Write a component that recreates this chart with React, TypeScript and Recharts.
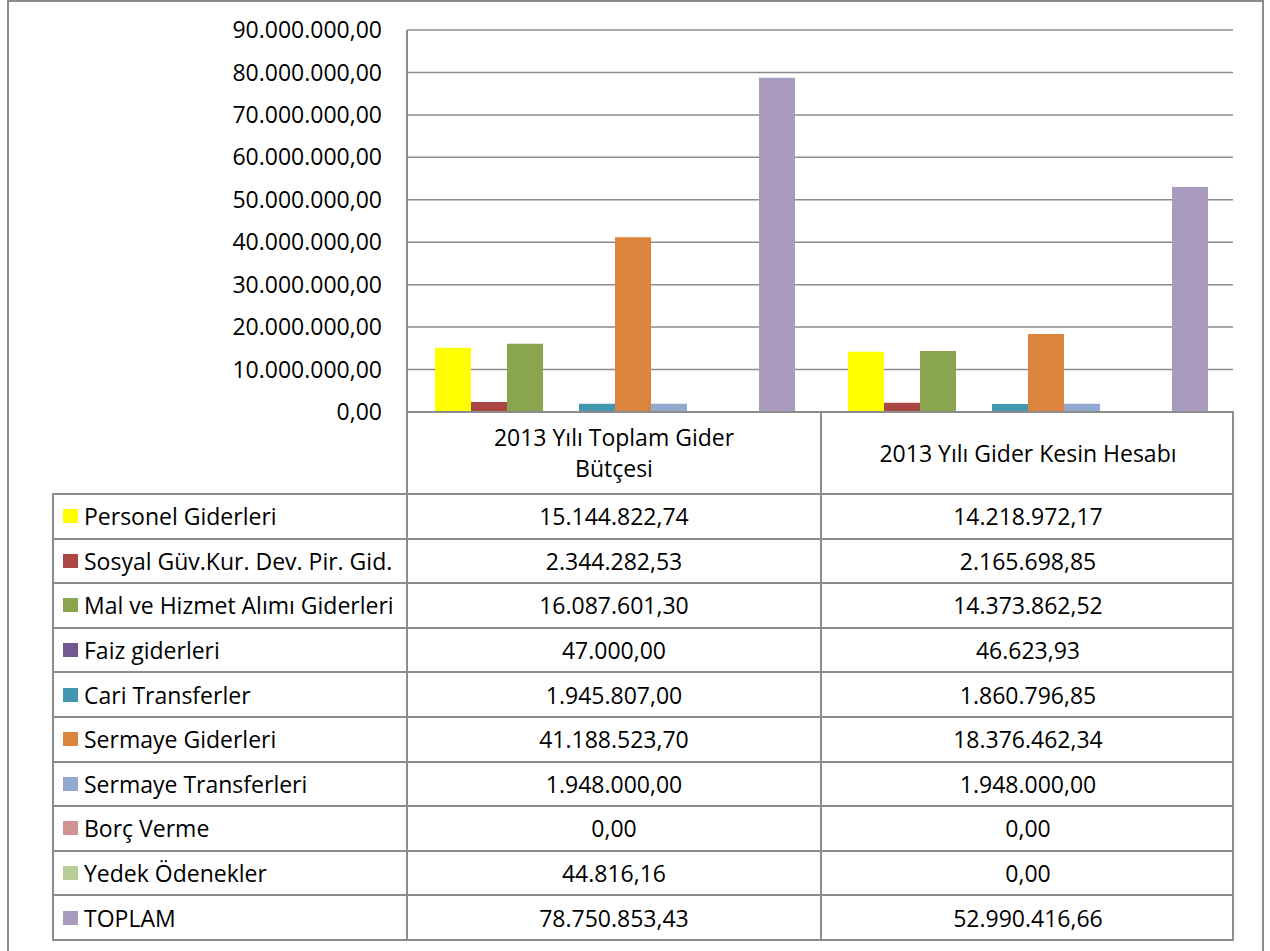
import { Bar, BarChart, CartesianGrid, XAxis, YAxis } from 'recharts';

const categories = ['2013 Yılı Toplam Gider Bütçesi', '2013 Yılı Gider Kesin Hesabı'];

const seriesNames = [
  'Personel Giderleri',
  'Sosyal Güv.Kur. Dev. Pir. Gid.',
  'Mal ve Hizmet Alımı Giderleri',
  'Faiz giderleri',
  'Cari Transferler',
  'Sermaye Giderleri',
  'Sermaye Transferleri',
  'Borç Verme',
  'Yedek Ödenekler',
  'TOPLAM',
];

const butceValues = [
  15144822.74, 2344282.53, 16087601.3, 47000.0, 1945807.0, 41188523.7, 1948000.0, 0.0, 44816.16,
  78750853.43,
];

const kesinHesapValues = [
  14218972.17, 2165698.85, 14373862.52, 46623.93, 1860796.85, 18376462.34, 1948000.0, 0.0, 0.0,
  52990416.66,
];

const seriesColors = [
  '#FFFF00',
  '#AA4643',
  '#89A54E',
  '#71588F',
  '#4198AF',
  '#DB843D',
  '#93A9CF',
  '#D19392',
  '#B9CD96',
  '#A99BBD',
];

const yTicks = [0, 10000000, 20000000, 30000000, 40000000, 50000000, 60000000, 70000000, 80000000, 90000000];

const valuesByCategory = [butceValues, kesinHesapValues];

// Turkish style: 1.234.567,89
const formatTr = (v: number) => {
  const [intPart, dec] = v.toFixed(2).split('.');
  return intPart.replace(/\B(?=(\d{3})+(?!\d))/g, '.') + ',' + dec;
};

const chartData = categories.map((name, ci) => {
  const row: Record<string, string | number> = { name };
  seriesNames.forEach((_, si) => {
    row[`s${si}`] = valuesByCategory[ci][si];
  });
  return row;
});

const FONT = '"Open Sans", "Noto Sans", sans-serif';
const FONT_SIZE = 23;
const LINE = '#8c8c8c';

// table geometry
const tableLeft = 53;
const col1 = 407;
const col2 = 821;
const col3 = 1233;
const headTop = 412;
const rowsTop = 494;
const rowsBottom = 940;
const rowH = (rowsBottom - rowsTop) / seriesNames.length;

const HLine = ({ x1, x2, y }: { x1: number; x2: number; y: number }) => (
  <div style={{ position: 'absolute', left: x1 - 1, top: y - 1, width: x2 - x1 + 2, height: 2, background: LINE }} />
);
const VLine = ({ x, y1, y2 }: { x: number; y1: number; y2: number }) => (
  <div style={{ position: 'absolute', left: x - 1, top: y1 - 1, width: 2, height: y2 - y1 + 2, background: LINE }} />
);

const Cell = ({
  left,
  top,
  width,
  height,
  children,
  justify = 'center',
}: {
  left: number;
  top: number;
  width: number;
  height: number;
  children: React.ReactNode;
  justify?: string;
}) => (
  <div
    style={{
      position: 'absolute',
      left,
      top,
      width,
      height,
      display: 'flex',
      alignItems: 'center',
      justifyContent: justify,
      textAlign: 'center',
      fontSize: FONT_SIZE,
      color: '#000',
      whiteSpace: 'nowrap',
    }}
  >
    {children}
  </div>
);

const App = () => {
  return (
    <div
      style={{
        position: 'absolute',
        left: 0,
        top: 0,
        width: 1270,
        height: 951,
        overflow: 'hidden',
        background: '#fff',
        fontFamily: FONT,
      }}
    >
      <div
        style={{
          position: 'absolute',
          left: 7,
          top: 0,
          width: 1257,
          height: 980,
          border: `2px solid ${LINE}`,
          boxSizing: 'border-box',
        }}
      />
      <div style={{ position: 'absolute', left: 0, top: 0 }}>
        <BarChart
          width={1270}
          height={440}
          data={chartData}
          margin={{ top: 30, right: 37, bottom: 28, left: 257 }}
          barCategoryGap={28}
          barGap={0}
        >
          <CartesianGrid vertical={false} stroke={LINE} strokeWidth={1.5} />
          <XAxis dataKey='name' hide />
          <YAxis
            width={150}
            domain={[0, 90000000]}
            ticks={yTicks}
            interval={0}
            tickFormatter={formatTr}
            tick={{ fill: '#000', fontSize: FONT_SIZE, fontFamily: FONT }}
            tickLine={false}
            tickSize={0}
            tickMargin={25}
            axisLine={{ stroke: LINE, strokeWidth: 2 }}
          />
          {seriesNames.map((n, si) => (
            <Bar key={n} dataKey={`s${si}`} name={n} fill={seriesColors[si]} isAnimationActive={false} />
          ))}
        </BarChart>
      </div>

      {/* data table */}
      <HLine x1={col1} x2={col3} y={headTop} />
      {Array.from({ length: seriesNames.length + 1 }, (_, i) => (
        <HLine key={i} x1={tableLeft} x2={col3} y={rowsTop + i * rowH} />
      ))}
      <VLine x={tableLeft} y1={rowsTop} y2={rowsBottom} />
      <VLine x={col1} y1={headTop} y2={rowsBottom} />
      <VLine x={col2} y1={headTop} y2={rowsBottom} />
      <VLine x={col3} y1={headTop} y2={rowsBottom} />

      {categories.map((c, ci) => (
        <Cell key={c} left={ci === 0 ? col1 : col2} top={headTop} width={col2 - col1} height={rowsTop - headTop}>
          <div style={{ maxWidth: 310, lineHeight: '31px', whiteSpace: 'normal' }}>{c}</div>
        </Cell>
      ))}

      {seriesNames.map((n, si) => (
        <div key={n}>
          <Cell left={tableLeft} top={rowsTop + si * rowH} width={col1 - tableLeft} height={rowH} justify='flex-start'>
            <span
              style={{
                display: 'inline-block',
                width: 15,
                height: 14,
                background: seriesColors[si],
                marginLeft: 10,
                marginRight: 6,
              }}
            />
            <span>{n}</span>
          </Cell>
          {valuesByCategory.map((vals, ci) => (
            <Cell
              key={ci}
              left={ci === 0 ? col1 : col2}
              top={rowsTop + si * rowH}
              width={col2 - col1}
              height={rowH}
            >
              {formatTr(vals[si])}
            </Cell>
          ))}
        </div>
      ))}
    </div>
  );
};

export default App;
